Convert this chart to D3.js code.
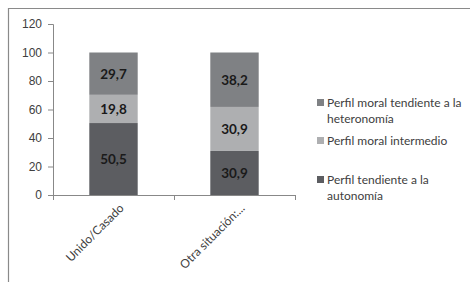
<!DOCTYPE html>
<html>
<head>
<meta charset="utf-8">
<script src="https://d3js.org/d3.v7.min.js"></script>
<style>
  body { margin: 0; background: #fff; }
  svg { font-family: Lato, "Open Sans", sans-serif; }
  .tick text { fill: #404040; font-size: 12px; }
  .domain, .tick line { stroke: #888; }
</style>
</head>
<body>
<svg id="chart" width="470" height="282"></svg>
<script>
// data
const categories = ["Unido/Casado", "Otra situación:..."];
const seriesNames = ["Perfil tendiente a la autonomía", "Perfil moral intermedio", "Perfil moral tendiente a la heteronomía"];
const autonomia = [50.5, 30.9];
const intermedio = [19.8, 30.9];
const heteronomia = [29.7, 38.2];
const yTicks = [0, 20, 40, 60, 80, 100, 120];

const colors = ["#5c5d61", "#aeafb1", "#7f8184"];
const values = [autonomia, intermedio, heteronomia];

const svg = d3.select("#chart");

// outer frame (left + top only visible)
svg.append("path")
  .attr("d", "M8.5,282 V8.5 H470")
  .attr("fill", "none")
  .attr("stroke", "#8a8a8a")
  .attr("stroke-width", 1.2);

const x = d3.scaleBand().domain(categories).range([53, 295]).paddingInner(0).paddingOuter(0);
const y = d3.scaleLinear().domain([0, 120]).range([195, 24]);

// stack the segments
const rows = categories.map((c, i) => {
  const r = { cat: c };
  seriesNames.forEach((s, k) => r[s] = values[k][i]);
  return r;
});
const stacked = d3.stack().keys(seriesNames)(rows);

const barW = x.bandwidth() * 0.4;

const g = svg.append("g");
stacked.forEach((layer, k) => {
  g.selectAll(null)
    .data(layer)
    .enter()
    .append("rect")
    .attr("x", d => x(d.data.cat) + (x.bandwidth() - barW) / 2)
    .attr("y", d => y(d[1]))
    .attr("width", barW)
    .attr("height", d => y(d[0]) - y(d[1]))
    .attr("fill", colors[k]);

  g.selectAll(null)
    .data(layer)
    .enter()
    .append("text")
    .attr("x", d => x(d.data.cat) + x.bandwidth() / 2)
    .attr("y", d => (y(d[0]) + y(d[1])) / 2 + 5)
    .attr("text-anchor", "middle")
    .attr("font-size", "13.5px")
    .attr("font-weight", "bold")
    .attr("fill", "#1a1a1a")
    .text(d => String(d[1] - d[0] > 0 ? (d.data[layer.key]).toFixed(1).replace(".", ",") : ""));
});

// y axis
svg.append("g")
  .attr("transform", "translate(53,0)")
  .call(d3.axisLeft(y).tickValues(yTicks).tickSize(5).tickPadding(6))
  .call(a => a.select(".domain").attr("d", "M-5,24.5H0.5V195.5"))
  .selectAll("text").attr("font-size", "12px");

// x axis
const xAxis = svg.append("g")
  .attr("transform", "translate(0,195)");
xAxis.append("line")
  .attr("x1", 53).attr("x2", 295).attr("y1", 0.5).attr("y2", 0.5)
  .attr("stroke", "#888");
xAxis.selectAll("line.tk")
  .data([53, 53 + x.bandwidth(), 295])
  .enter().append("line")
  .attr("class", "tk")
  .attr("x1", d => d + 0.5).attr("x2", d => d + 0.5)
  .attr("y1", 0).attr("y2", 5)
  .attr("stroke", "#888");
xAxis.selectAll("text")
  .data(categories)
  .enter().append("text")
  .attr("transform", d => `translate(${x(d) + x.bandwidth() / 2 + 5},8) rotate(-45)`)
  .attr("text-anchor", "end")
  .attr("dy", "0.7em")
  .attr("font-size", "12px")
  .attr("fill", "#404040")
  .text(d => d);

// legend
const legendItems = [
  { lines: ["Perfil moral tendiente a la", "heteronomía"], color: colors[2], y: 103 },
  { lines: ["Perfil moral intermedio"], color: colors[1], y: 141 },
  { lines: ["Perfil tendiente a la", "autonomía"], color: colors[0], y: 180 }
];
const leg = svg.append("g");
legendItems.forEach(it => {
  leg.append("rect")
    .attr("x", 317).attr("y", it.y - 4)
    .attr("width", 7).attr("height", 7)
    .attr("fill", it.color);
  const t = leg.append("text")
    .attr("x", 327).attr("y", it.y + 4)
    .attr("font-size", "12px")
    .attr("fill", "#404040");
  it.lines.forEach((l, i) => {
    t.append("tspan").attr("x", 327).attr("dy", i === 0 ? 0 : 16).text(l);
  });
});
</script>
</body>
</html>
